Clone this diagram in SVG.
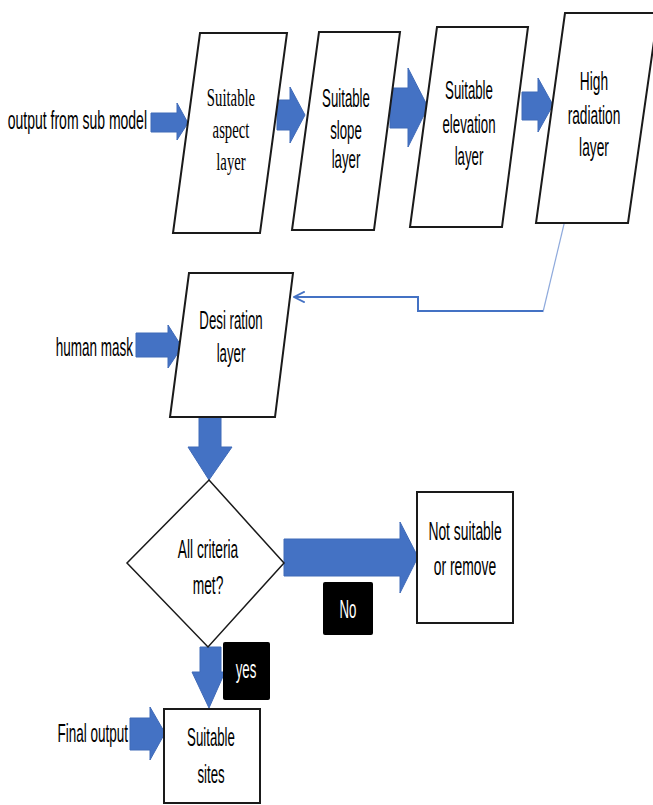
<svg xmlns="http://www.w3.org/2000/svg" width="653" height="805" viewBox="0 0 653 805">
<defs>
<style>
.shape{fill:#fff;stroke:#1a1a1a;stroke-width:2;stroke-linejoin:miter}
.dia{fill:#fff;stroke:#1a1a1a;stroke-width:1.5}
.blk{fill:#4472C4;stroke:#3F6AB8;stroke-width:1}
.t{font-family:"Liberation Sans",Arial,sans-serif;font-size:25px;fill:#000}
.s{font-family:"Liberation Serif","Times New Roman",serif;font-size:25px;fill:#000}
.w{fill:#fff}
.lbl{fill:#000}
.line{fill:none;stroke:#4472C4;stroke-width:2}
.thin{fill:none;stroke:#8FAADC;stroke-width:1.2}
</style>
<marker id="ah" viewBox="0 0 10 10" refX="9" refY="5" markerWidth="12" markerHeight="12" orient="auto" markerUnits="userSpaceOnUse">
<path d="M0,0.5 L9,5 L0,9.5" fill="none" stroke="#4472C4" stroke-width="1.6"/>
</marker>
</defs>
<rect width="653" height="805" fill="#fff"/>

<g id="connectors">
<polygon class="blk" points="151,113 177,113 177,103 188,123 177,140 177,132 151,132"/>
<polygon class="blk" points="277,100 290,100 290,87 305,115 290,143 290,130 277,130"/>
<polygon class="blk" points="390,88 408,88 408,68 428,107 408,147 408,128 390,128"/>
<polygon class="blk" points="522,92 538,92 538,78 553,105 538,132 538,120 522,120"/>
<path class="thin" d="M565,220 L543,312"/>
<path class="line" d="M543,311 H418 V297 H294" marker-end="url(#ah)"/>
<polygon class="blk" points="136,333 168,333 168,325 182,347 168,368 168,357 136,357"/>
<polygon class="blk" points="199,417 221,417 221,447 232,447 209,480 188,447 199,447"/>
<polygon class="blk" points="284,539 400,539 400,522 418,557 400,593 400,576 284,576"/>
<polygon class="blk" points="200,647 221,647 221,672 225,672 209,708 192,672 200,672"/>
<polygon class="blk" points="130,718 150,718 150,707 165,733 150,760 150,750 130,750"/>
</g>

<g id="in-sub">
<text class="t" transform="translate(147,129) scale(0.56,1)" text-anchor="end">output from sub model</text>
</g>

<g id="aspect">
<polygon class="shape" points="200,33 287,33 260,233 173,233"/>
<g class="s" text-anchor="middle">
<text transform="translate(231,106) scale(0.59,1)">Suitable</text>
<text transform="translate(231,138) scale(0.59,1)">aspect</text>
<text transform="translate(231,170) scale(0.59,1)">layer</text>
</g>
</g>

<g id="slope">
<polygon class="shape" points="319,32 400,32 374,230 292,230"/>
<g class="t" text-anchor="middle">
<text transform="translate(346,107) scale(0.53,1)">Suitable</text>
<text transform="translate(346,139) scale(0.53,1)">slope</text>
<text transform="translate(346,168) scale(0.53,1)">layer</text>
</g>
</g>

<g id="elevation">
<polygon class="shape" points="437,27 528,27 502,227 410,227"/>
<g class="t" text-anchor="middle">
<text transform="translate(469,99) scale(0.53,1)">Suitable</text>
<text transform="translate(469,133) scale(0.53,1)">elevation</text>
<text transform="translate(469,165) scale(0.53,1)">layer</text>
</g>
</g>

<g id="radiation">
<polygon class="shape" points="565,13 658,13 628,223 536,223"/>
<g class="t" text-anchor="middle">
<text transform="translate(594,90) scale(0.55,1)">High</text>
<text transform="translate(594,124) scale(0.55,1)">radiation</text>
<text transform="translate(594,156) scale(0.55,1)">layer</text>
</g>
</g>

<g id="in-human">
<text class="t" transform="translate(133,356) scale(0.54,1)" text-anchor="end">human mask</text>
</g>

<g id="desiration">
<polygon class="shape" points="189,273 293,273 275,417 170,417"/>
<g class="t" text-anchor="middle">
<text transform="translate(231,329) scale(0.53,1)">Desi ration</text>
<text transform="translate(231,362) scale(0.53,1)">layer</text>
</g>
</g>

<g id="criteria">
<polygon class="dia" points="209,480 284,563 208,647 127,563"/>
<g class="t" text-anchor="middle">
<text transform="translate(208,558) scale(0.55,1)">All criteria</text>
<text transform="translate(208,594) scale(0.55,1)">met?</text>
</g>
</g>

<g id="notsuitable">
<rect class="shape" x="417" y="492" width="96" height="131"/>
<g class="t" text-anchor="middle">
<text transform="translate(465,540) scale(0.555,1)">Not suitable</text>
<text transform="translate(465,575) scale(0.555,1)">or remove</text>
</g>
</g>

<g id="label-no">
<rect class="lbl" x="323" y="582" width="50" height="53" rx="2"/>
<text class="t w" transform="translate(348,618) scale(0.53,1)" text-anchor="middle">No</text>
</g>

<g id="label-yes">
<rect class="lbl" x="223" y="642" width="47" height="58" rx="2"/>
<text class="t w" transform="translate(246,678) scale(0.53,1)" text-anchor="middle">yes</text>
</g>

<g id="in-final">
<text class="t" transform="translate(128,742) scale(0.54,1)" text-anchor="end">Final output</text>
</g>

<g id="sites">
<rect class="shape" x="164" y="709" width="96" height="94"/>
<g class="t" text-anchor="middle">
<text transform="translate(211,746) scale(0.53,1)">Suitable</text>
<text transform="translate(211,783) scale(0.53,1)">sites</text>
</g>
</g>
</svg>
